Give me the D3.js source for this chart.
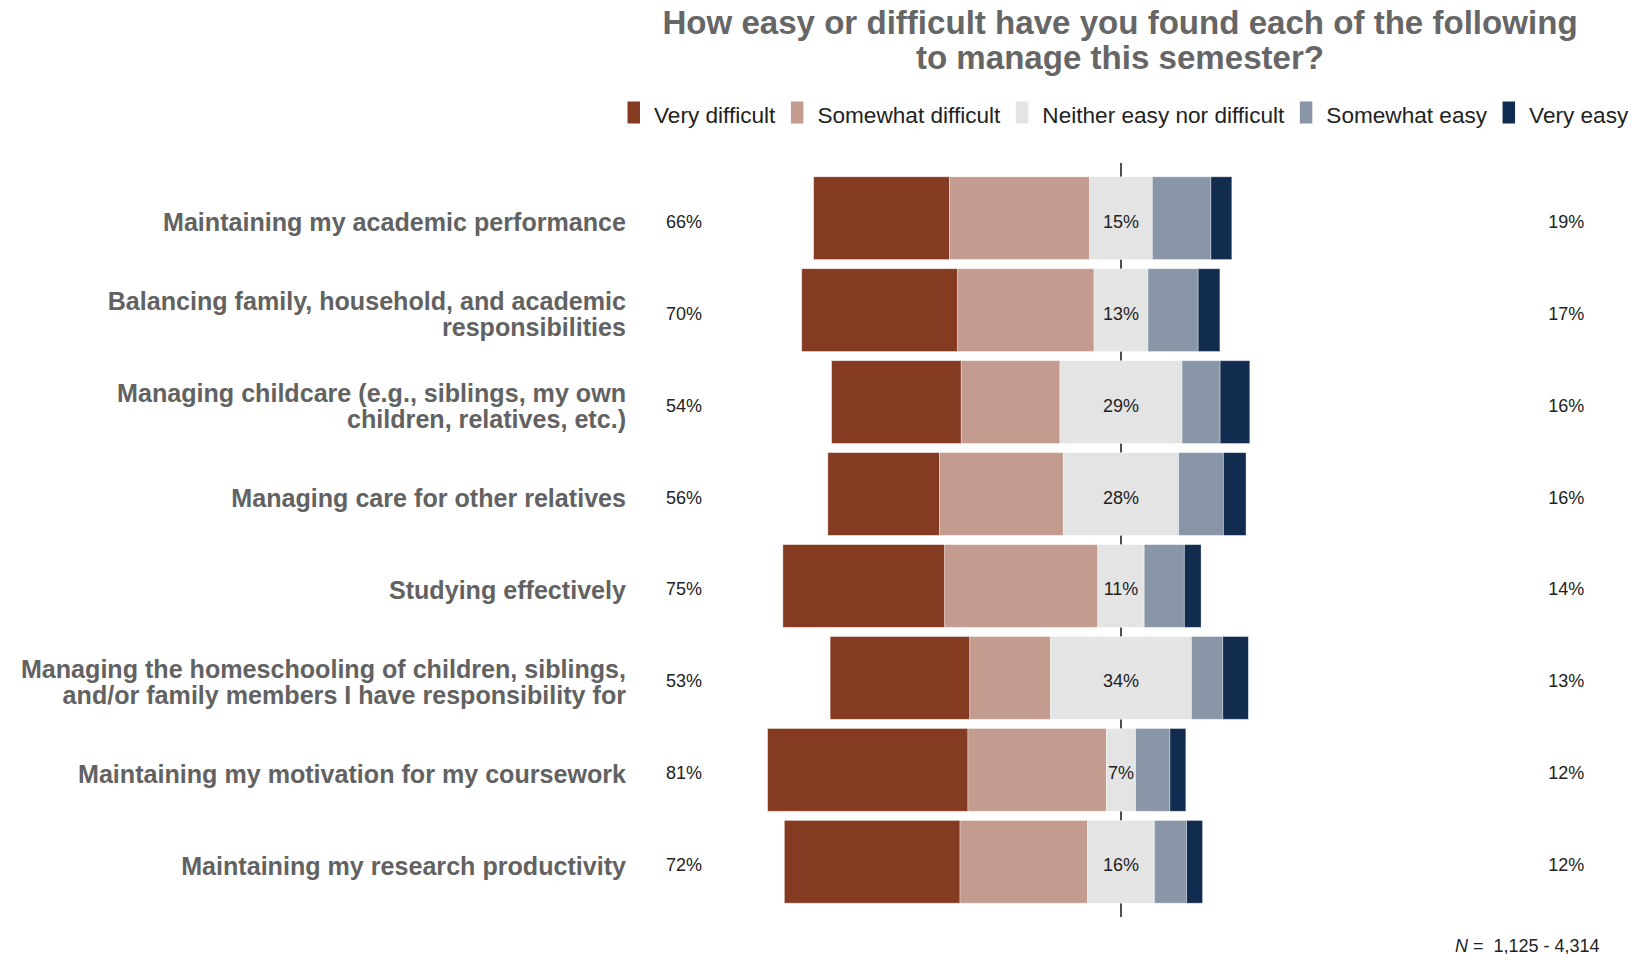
<!DOCTYPE html>
<html>
<head>
<meta charset="utf-8">
<script src="https://cdn.jsdelivr.net/npm/d3@7"></script>
<style>
  html, body { margin: 0; padding: 0; background: #ffffff; }
  svg { display: block; }
  text { font-family: "Liberation Sans", Arial, sans-serif; }
</style>
</head>
<body>
<svg id="chart" width="1640" height="954"></svg>
<script>
// ---------------- data ----------------
const categories = [
  "Maintaining my academic performance",
  "Balancing family, household, and academic\nresponsibilities",
  "Managing childcare (e.g., siblings, my own\nchildren, relatives, etc.)",
  "Managing care for other relatives",
  "Studying effectively",
  "Managing the homeschooling of children, siblings,\nand/or family members I have responsibility for",
  "Maintaining my motivation for my coursework",
  "Maintaining my research productivity"
];
const seriesNames = ["Very difficult", "Somewhat difficult", "Neither easy nor difficult", "Somewhat easy", "Very easy"];
const veryDifficult     = [32.5, 37.3, 31.0, 26.7, 38.7, 33.4, 47.9, 42.0];
const somewhatDifficult = [33.5, 32.6, 23.6, 29.6, 36.6, 19.3, 33.1, 30.5];
const neither           = [15.0, 12.9, 29.2, 27.6, 11.1, 33.7,  7.0, 16.0];
const somewhatEasy      = [14.0, 12.0,  9.1, 10.7,  9.6,  7.5,  8.2,  7.7];
const veryEasy          = [ 5.0,  5.2,  7.1,  5.4,  4.0,  6.1,  3.8,  3.8];
const difficultLabels = ["66%", "70%", "54%", "56%", "75%", "53%", "81%", "72%"];
const neitherLabels   = ["15%", "13%", "29%", "28%", "11%", "34%", "7%", "16%"];
const easyLabels      = ["19%", "17%", "16%", "16%", "14%", "13%", "12%", "12%"];
const titleLines = ["How easy or difficult have you found each of the following", "to manage this semester?"];
const noteText = ["N", " =  1,125 - 4,314"];

// ---------------- styles ----------------
const colors = ["#853a22", "#c39b8f", "#e4e4e4", "#8996a7", "#112c4f"];
const series = [veryDifficult, somewhatDifficult, neither, somewhatEasy, veryEasy];

const svg = d3.select("#chart");

// scales
const x = d3.scaleLinear().domain([-110, 110]).range([661, 1581]);
const y = d3.scaleBand().domain(categories).range([163, 917]).paddingInner(0.1).paddingOuter(0.15);

// rows with stacked segments, centred on the middle of the neutral segment
const rows = categories.map((c, i) => {
  let start = -(veryDifficult[i] + somewhatDifficult[i] + neither[i] / 2);
  const segs = series.map((s, k) => {
    const seg = { cat: c, k, x0: start, x1: start + s[i] };
    start += s[i];
    return seg;
  });
  return { cat: c, i, segs };
});

// zero line (behind bars)
svg.append("line")
  .attr("x1", x(0)).attr("x2", x(0))
  .attr("y1", y.range()[0]).attr("y2", y.range()[1])
  .attr("stroke", "#222").attr("stroke-width", 1.6);

// bars
const g = svg.append("g");
g.selectAll("g.row").data(rows).join("g").attr("class", "row")
  .selectAll("rect").data(d => d.segs).join("rect")
  .attr("x", d => x(d.x0))
  .attr("width", d => x(d.x1) - x(d.x0))
  .attr("y", d => y(d.cat))
  .attr("height", y.bandwidth())
  .attr("fill", d => colors[d.k])
  .attr("stroke", "#ffffff").attr("stroke-opacity", 0.45).attr("stroke-width", 0.8);

const pctDy = 9.5;
// neutral labels
svg.append("g").selectAll("text").data(rows).join("text")
  .attr("x", x(0))
  .attr("y", d => y(d.cat) + y.bandwidth() / 2 + pctDy)
  .attr("text-anchor", "middle")
  .attr("font-size", 18).attr("fill", "#222")
  .text(d => neitherLabels[d.i]);

// left / right totals
svg.append("g").selectAll("text").data(rows).join("text")
  .attr("x", x(-104.5))
  .attr("y", d => y(d.cat) + y.bandwidth() / 2 + pctDy)
  .attr("text-anchor", "middle")
  .attr("font-size", 18).attr("fill", "#222")
  .text(d => difficultLabels[d.i]);
svg.append("g").selectAll("text").data(rows).join("text")
  .attr("x", x(106.5))
  .attr("y", d => y(d.cat) + y.bandwidth() / 2 + pctDy)
  .attr("text-anchor", "middle")
  .attr("font-size", 18).attr("fill", "#222")
  .text(d => easyLabels[d.i]);

// category labels
const lineH = 26;
const cl = svg.append("g").selectAll("text").data(rows).join("text")
  .attr("text-anchor", "end")
  .attr("font-size", 25.1).attr("font-weight", "bold").attr("fill", "#626262");
cl.each(function(d) {
  const lines = d.cat.split("\n");
  const n = lines.length;
  const c = y(d.cat) + y.bandwidth() / 2 + 13;
  d3.select(this).selectAll("tspan").data(lines).join("tspan")
    .attr("x", 626)
    .attr("y", (l, j) => c + (j - (n - 1) / 2) * lineH)
    .text(l => l);
});

// title
svg.append("g").selectAll("text").data(titleLines).join("text")
  .attr("x", 1120)
  .attr("y", (d, i) => 34 + i * 34.5)
  .attr("text-anchor", "middle")
  .attr("font-size", 33.1).attr("font-weight", "bold").attr("fill", "#666666")
  .text(d => d);

// legend (flow layout)
const lg = svg.append("g");
let lx = 627.5;
seriesNames.forEach((name, k) => {
  lg.append("rect").attr("x", lx).attr("y", 101.5).attr("width", 12.5).attr("height", 22)
    .attr("fill", colors[k]);
  const t = lg.append("text").attr("x", lx + 26.5).attr("y", 123)
    .attr("font-size", 22.6).attr("fill", "#222").text(name);
  lx = lx + 26.5 + t.node().getComputedTextLength() + 15.5;
});

// note
const note = svg.append("text").attr("x", 1455).attr("y", 951.5)
  .attr("font-size", 18).attr("fill", "#222").style("white-space", "pre");
note.append("tspan").attr("font-style", "italic").text(noteText[0]);
note.append("tspan").text(noteText[1]);
</script>
</body>
</html>
